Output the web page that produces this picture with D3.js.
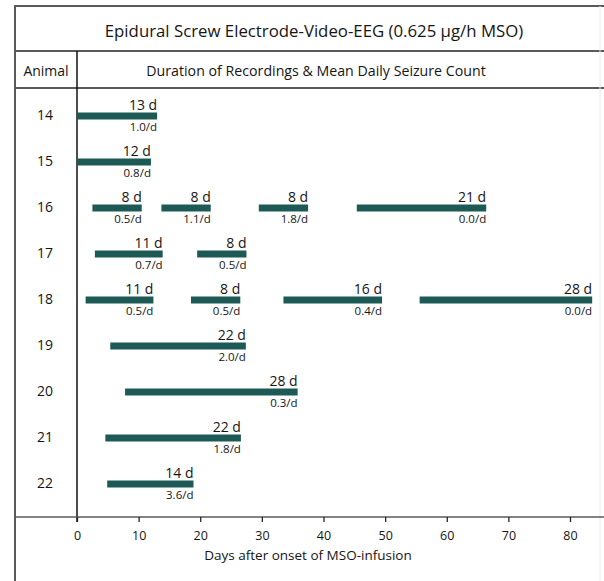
<!DOCTYPE html>
<html>
<head>
<meta charset="utf-8">
<script src="https://cdn.jsdelivr.net/npm/d3@7"></script>
<style>
  html, body { margin: 0; padding: 0; background: #fff; }
  svg { display: block; }
  text { font-family: "Open Sans", "Noto Sans", sans-serif; fill: #151515; }
</style>
</head>
<body>
<svg id="chart" width="604" height="581"></svg>
<script>
// Animals (rows)
const animals = ["14", "15", "16", "17", "18", "19", "20", "21", "22"];

// Recording periods: animal, start day, duration (days), mean daily seizures
const segAnimal = ["14", "15", "16", "16", "16", "16", "17", "17", "18", "18", "18", "18", "19", "20", "21", "22"];
const segStart  = [0, 0, 2.5, 13.7, 29.5, 45.4, 2.9, 19.5, 1.4, 18.5, 33.5, 55.6, 5.4, 7.8, 4.6, 4.9];
const segDays   = [13, 12, 8, 8, 8, 21, 11, 8, 11, 8, 16, 28, 22, 28, 22, 14];
const segRate   = [1.0, 0.8, 0.5, 1.1, 1.8, 0.0, 0.7, 0.5, 0.5, 0.5, 0.4, 0.0, 2.0, 0.3, 1.8, 3.6];

// Axis ticks
const dayTicks = [0, 10, 20, 30, 40, 50, 60, 70, 80];

const titleText = "Epidural Screw Electrode-Video-EEG (0.625 \u03BCg/h MSO)";
const colAnimal = "Animal";
const colDuration = "Duration of Recordings & Mean Daily Seizure Count";
const axisTitle = "Days after onset of MSO-infusion";

const segments = segAnimal.map((a, i) => ({
  animal: a, start: segStart[i], days: segDays[i], rate: segRate[i]
}));

const svg = d3.select("#chart");

const x = d3.scaleLinear().domain([0, 80]).range([77, 570]);
const y = d3.scalePoint().domain(animals).range([116, 484]);

const frameLeft = 15, frameRight = 604;
const yTop = 6, yHead1 = 51, yHead2 = 88, yAxis = 517;
const lineColor = "#5a5a5a";
const barColor = "#1e5a55";

// Table frame
const frame = svg.append("g");
[yTop, yHead1, yHead2].forEach(yy => {
  frame.append("line")
    .attr("x1", frameLeft).attr("x2", frameRight)
    .attr("y1", yy).attr("y2", yy)
    .attr("stroke", lineColor).attr("stroke-width", 2);
});
frame.append("line")
  .attr("x1", frameLeft).attr("x2", frameLeft)
  .attr("y1", yTop - 1).attr("y2", 581)
  .attr("stroke", lineColor).attr("stroke-width", 2);
frame.append("line")
  .attr("x1", 600).attr("x2", 600)
  .attr("y1", yTop).attr("y2", 581)
  .attr("stroke", "#ececec").attr("stroke-width", 1);
// Column divider running down to the axis
frame.append("line")
  .attr("x1", x(0)).attr("x2", x(0))
  .attr("y1", yHead1).attr("y2", yAxis + 5)
  .attr("stroke", "#111").attr("stroke-width", 1.5);

// Titles
svg.append("text")
  .attr("x", 314).attr("y", 37)
  .attr("text-anchor", "middle")
  .attr("font-size", 16.8)
  .text(titleText);
svg.append("text")
  .attr("x", 46).attr("y", 76)
  .attr("text-anchor", "middle")
  .attr("font-size", 14)
  .text(colAnimal);
svg.append("text")
  .attr("x", 316).attr("y", 76)
  .attr("text-anchor", "middle")
  .attr("font-size", 14.2)
  .text(colDuration);

// Animal labels
svg.append("g").selectAll("text")
  .data(animals)
  .join("text")
  .attr("x", 45).attr("y", d => y(d) + 4)
  .attr("text-anchor", "middle")
  .attr("font-size", 14)
  .text(d => d);

// Recording bars
const segG = svg.append("g").selectAll("g")
  .data(segments)
  .join("g");

segG.append("rect")
  .attr("x", d => x(d.start))
  .attr("y", d => y(d.animal) - 3.5)
  .attr("width", d => x(d.start + d.days) - x(d.start))
  .attr("height", 7)
  .attr("fill", barColor);

segG.append("text")
  .attr("x", d => x(d.start + d.days))
  .attr("y", d => y(d.animal) - 6.5)
  .attr("text-anchor", "end")
  .attr("font-size", 14)
  .text(d => d.days + " d");

segG.append("text")
  .attr("x", d => x(d.start + d.days))
  .attr("y", d => y(d.animal) + 15)
  .attr("text-anchor", "end")
  .attr("font-size", 11.5)
  .text(d => d.rate.toFixed(1) + "/d");

// X axis
svg.append("line")
  .attr("x1", frameLeft).attr("x2", frameRight)
  .attr("y1", yAxis).attr("y2", yAxis)
  .attr("stroke", lineColor).attr("stroke-width", 1.5);

const axis = svg.append("g")
  .attr("transform", `translate(0,${yAxis})`)
  .call(d3.axisBottom(x).tickValues(dayTicks).tickSize(5).tickPadding(9));
axis.select(".domain").remove();
axis.selectAll(".tick line").attr("stroke", "#222").attr("stroke-width", 1.3);
axis.selectAll(".tick text")
  .attr("font-size", 12.5)
  .attr("font-family", "\"Open Sans\", \"Noto Sans\", sans-serif")
  .attr("fill", "#151515");

svg.append("text")
  .attr("x", 308).attr("y", 560)
  .attr("text-anchor", "middle")
  .attr("font-size", 13.5)
  .text(axisTitle);
</script>
</body>
</html>
